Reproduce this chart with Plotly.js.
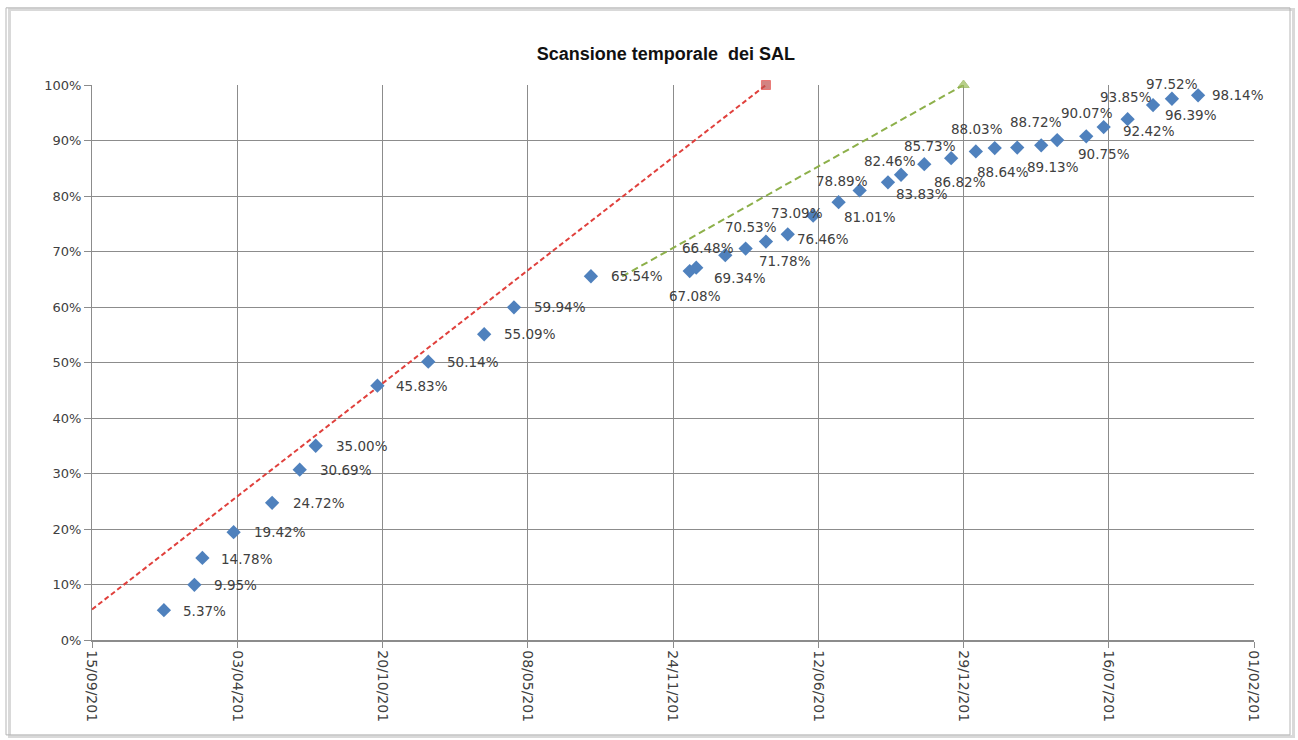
<!DOCTYPE html>
<html>
<head>
<meta charset="utf-8">
<script src="https://cdn.plot.ly/plotly-3.0.1.min.js"></script>
<style>html,body{margin:0;padding:0;background:#fff;}#chart{width:1298px;height:740px;}</style>
</head>
<body>
<div id="chart"></div>
<script>
// ---- data ----
const salDates = [
  '2012-12-23','2013-02-03','2013-02-14','2013-03-29','2013-05-21','2013-06-28','2013-07-20',
  '2013-10-13','2013-12-22','2014-03-09','2014-04-19','2014-08-03','2014-12-17','2014-12-26',
  '2015-02-04','2015-03-04','2015-04-01','2015-05-01','2015-06-05','2015-07-10','2015-08-08',
  '2015-09-16','2015-10-04','2015-11-05','2015-12-12','2016-01-15','2016-02-10','2016-03-12',
  '2016-04-14','2016-05-06','2016-06-15','2016-07-09','2016-08-11','2016-09-15','2016-10-11',
  '2016-11-16'
];
const salPercent = [
  5.37, 9.95, 14.78, 19.42, 24.72, 30.69, 35.00,
  45.83, 50.14, 55.09, 59.94, 65.54, 66.48, 67.08,
  69.34, 70.53, 71.78, 73.09, 76.46, 78.89, 81.01,
  82.46, 83.83, 85.73, 86.82, 88.03, 88.64, 88.72,
  89.13, 90.07, 90.75, 92.42, 93.85, 96.39, 97.52,
  98.14
];
const redDates = ['2012-09-15', '2015-04-01'];
const redValues = [0.055, 1.0];
const greenDates = ['2014-09-15', '2015-12-29'];
const greenValues = [0.655, 1.0];
const xTickDates = ['2012-09-15','2013-04-03','2013-10-20','2014-05-08','2014-11-24','2015-06-12','2015-12-29','2016-07-16','2017-02-01'];
const xTickLabels = ['15/09/201','03/04/201','20/10/201','08/05/201','24/11/201','12/06/201','29/12/201','16/07/201','01/02/201'];

// ---- label placement (style config, pixel offsets of each data label from its marker) ----
const labelAnchor = [
  'left','left','left','left','left','left','left',
  'left','left','left','left','left','center','center',
  'center','center','center','center','center','center','center',
  'center','center','center','center','center','center','center',
  'center','center','center','left','center','left','center',
  'left'
];
const labelDx = [
  17, 18, 17, 18, 19, 18, 18,
  17, 17, 18, 18, 18, 18, -1,
  15, 5, 19, 9, 10, 3, 10,
  2, 21, 6, 9, 1, 8, 19,
  12, 30, 18, 17, -2, 10, 0,
  12
];
const labelDy = [
  1, 0, 1, 0, 0, 0, 0,
  0, 0, 0, 0, 0, -23, 28,
  23, -22, 19, -21, 23, -21, 27,
  -21, 19, -18, 24, -22, 24, -26,
  22, -27, 18, 4, -22, 10, -15,
  0
];

const gridCol = '#8c8c8c';
const textCol = '#404040';
const labelFont = {family: 'DejaVu Sans, sans-serif', size: 13.5, color: textCol};

const traces = [
  {
    x: redDates, y: redValues, type: 'scatter', mode: 'lines+markers',
    line: {color: '#E0403C', width: 2, dash: '5px,3px'},
    marker: {symbol: 'square', size: [0, 9], color: '#C0504D'},
    hoverinfo: 'skip', cliponaxis: false
  },
  {
    x: greenDates, y: greenValues, type: 'scatter', mode: 'lines+markers',
    line: {color: '#8DB04A', width: 2, dash: '7px,4px'},
    marker: {symbol: 'triangle-up', size: [0, 10], color: '#9BBB59'},
    hoverinfo: 'skip', cliponaxis: false
  },
  {
    x: salDates, y: salPercent.map(v => v / 100), type: 'scatter', mode: 'markers',
    marker: {symbol: 'diamond', size: 11, color: '#4F81BD'},
    cliponaxis: false
  }
];

const annotations = salDates.map((d, i) => ({
  x: d, y: salPercent[i] / 100, xref: 'x', yref: 'y',
  text: salPercent[i].toFixed(2) + '%',
  showarrow: false,
  xanchor: labelAnchor[i], yanchor: 'middle',
  xshift: labelDx[i], yshift: -labelDy[i],
  font: labelFont
}));

const layout = {
  width: 1298, height: 740,
  margin: {l: 92, r: 44, t: 85, b: 100},
  paper_bgcolor: '#ffffff', plot_bgcolor: '#ffffff',
  showlegend: false,
  title: {
    text: '<b>Scansione temporale  dei SAL</b>',
    x: 0.513, xanchor: 'center', xref: 'container',
    y: 0.928, yanchor: 'middle', yref: 'container',
    font: {family: 'Liberation Sans, sans-serif', size: 18, color: '#111'}
  },
  xaxis: {
    type: 'date',
    range: [xTickDates[0], xTickDates[xTickDates.length - 1]],
    tickmode: 'array', tickvals: xTickDates, ticktext: xTickLabels,
    tickangle: 90,
    showgrid: true, gridcolor: gridCol, gridwidth: 1,
    ticks: 'outside', ticklen: 6, tickcolor: gridCol,
    showline: true, linecolor: gridCol, linewidth: 1.5,
    zeroline: false,
    tickfont: {family: 'DejaVu Sans, sans-serif', size: 14, color: textCol}
  },
  yaxis: {
    range: [0, 1], dtick: 0.1, tickformat: '.0%',
    showgrid: true, gridcolor: gridCol, gridwidth: 1,
    ticks: 'outside', ticklen: 7, tickcolor: gridCol,
    showline: true, linecolor: gridCol, linewidth: 1,
    zeroline: false,
    tickfont: {family: 'DejaVu Sans, sans-serif', size: 13, color: textCol}
  },
  annotations: annotations,
  shapes: [
    {type: 'rect', xref: 'paper', yref: 'paper', x0: -0.071, x1: 1.034, y0: -0.174, y1: 1.136,
     line: {color: '#d9d9d9', width: 3}, fillcolor: 'rgba(0,0,0,0)', layer: 'below'},
    {type: 'rect', xref: 'paper', yref: 'paper', x0: -0.074, x1: 1.031, y0: -0.171, y1: 1.139,
     line: {color: '#b5b5b5', width: 1}, fillcolor: 'rgba(0,0,0,0)', layer: 'below'}
  ]
};

Plotly.newPlot('chart', traces, layout, {displayModeBar: false, staticPlot: true});
</script>
</body>
</html>
